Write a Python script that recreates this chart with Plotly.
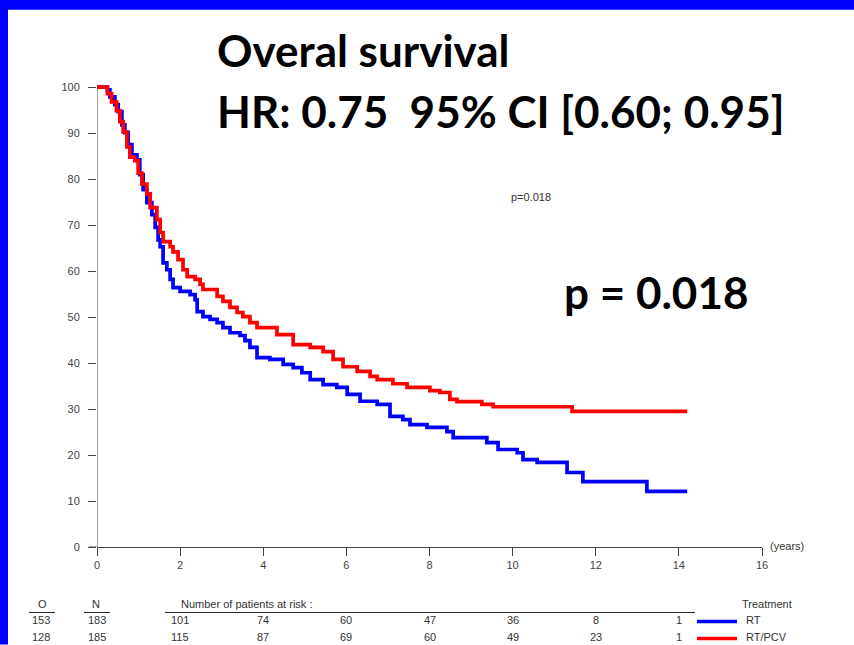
import plotly.graph_objects as go

# ---- data ----
rt_time = [0, 0.25, 0.31, 0.43, 0.51, 0.60, 0.67, 0.75, 0.84, 0.96, 1.03, 1.11, 1.20, 1.32, 1.40,
           1.47, 1.52, 1.59, 1.68, 1.76, 1.83, 2.00, 2.24, 2.36, 2.41, 2.55, 2.72, 2.89, 3.03,
           3.20, 3.44, 3.56, 3.68, 3.85, 4.16, 4.48, 4.72, 4.93, 5.13, 5.44, 5.77, 6.02, 6.33,
           6.74, 7.05, 7.36, 7.53, 7.94, 8.42, 8.57, 9.38, 9.65, 10.11, 10.25, 10.59, 11.31,
           11.69, 13.23, 14.2]
rt_surv = [100, 99.4, 97.9, 96.2, 94.7, 91.8, 90.1, 87.5, 85.3, 84.2, 81.0, 77.7, 74.9, 72.3, 69.5,
           66.8, 65.3, 61.8, 60.3, 58.2, 56.4, 55.6, 54.9, 53.8, 51.2, 50.1, 49.5, 48.8, 47.7,
           46.6, 46.0, 44.9, 43.4, 41.2, 40.8, 39.7, 39.0, 37.9, 36.4, 35.3, 34.7, 33.2, 31.7,
           31.0, 28.4, 27.7, 26.6, 26.0, 25.1, 23.8, 22.7, 21.2, 20.5, 19.0, 18.4, 16.2,
           14.2, 12.1, 12.1]

pcv_time = [0, 0.25, 0.35, 0.47, 0.55, 0.63, 0.72, 0.79, 0.91, 0.99, 1.08, 1.20, 1.28, 1.44, 1.52,
            1.59, 1.76, 1.83, 1.95, 2.07, 2.17, 2.36, 2.48, 2.55, 2.89, 3.03, 3.20, 3.37, 3.51,
            3.68, 3.85, 4.33, 4.72, 5.13, 5.44, 5.68, 5.92, 6.26, 6.57, 6.74, 7.12, 7.46, 8.01,
            8.25, 8.49, 8.66, 9.26, 9.53, 11.43, 14.2]
pcv_surv = [100, 98.6, 96.8, 94.9, 92.5, 90.3, 87.0, 84.8, 84.0, 81.3, 78.9, 76.8, 73.8, 71.2, 68.4,
            66.4, 65.3, 64.2, 62.5, 60.3, 58.8, 58.2, 57.1, 56.0, 54.5, 53.4, 52.1, 51.0, 50.1,
            48.8, 47.7, 46.2, 44.0, 43.4, 42.5, 40.8, 39.2, 38.2, 37.1, 36.4, 35.5, 34.7, 34.0,
            33.6, 32.1, 31.6, 31.0, 30.5, 29.5, 29.5]

x_ticks = [0, 2, 4, 6, 8, 10, 12, 14, 16]
y_ticks = [0, 10, 20, 30, 40, 50, 60, 70, 80, 90, 100]
risk_times = [2, 4, 6, 8, 10, 12, 14]
rt_at_risk = [101, 74, 60, 47, 36, 8, 1]
pcv_at_risk = [115, 87, 69, 60, 49, 23, 1]
groups = ["RT", "RT/PCV"]
events_O = [153, 128]
totals_N = [183, 185]
colors = ["#0000ff", "#ff0000"]

# ---- figure ----
fig = go.Figure()
fig.add_trace(go.Scatter(x=rt_time, y=rt_surv, mode="lines", line=dict(color=colors[0], width=3.7, shape="hv"),
                         name=groups[0], showlegend=False))
fig.add_trace(go.Scatter(x=pcv_time, y=pcv_surv, mode="lines", line=dict(color=colors[1], width=3.7, shape="hv"),
                         name=groups[1], showlegend=False))

W, H = 854, 645
L, R, T, B = 97, 92, 78.3, 97.5
pw, ph = W - L - R, H - T - B


def px(xp):
    return (xp - L) / pw


def py(yp):
    return (H - B - yp) / ph


small = dict(family="Liberation Sans Narrow, Liberation Sans, Arial", size=11, color="#333")
big = dict(family="Lato, Open Sans, sans-serif", size=44, color="black")
tickf = dict(family="Liberation Sans Narrow, Liberation Sans", size=11, color="#444")

fig.update_layout(
    width=W, height=H,
    margin=dict(l=L, r=R, t=T, b=B, pad=0),
    paper_bgcolor="white", plot_bgcolor="white",
    xaxis=dict(range=[0, 16], tickvals=x_ticks, ticktext=[str(v) for v in x_ticks],
               showline=True, linecolor="#444", linewidth=1, ticks="outside", ticklen=8,
               tickcolor="#444", showgrid=False, zeroline=False, tickfont=tickf),
    yaxis=dict(range=[0, 102], tickvals=y_ticks, ticktext=[str(v) for v in y_ticks],
               showline=False, ticks="outside", ticklen=8, tickcolor="#444",
               showgrid=False, zeroline=False, ticklabelstandoff=6, tickfont=tickf),
)

shapes = []
shapes.append(dict(type="line", xref="x", yref="y", x0=0, x1=0, y0=0, y1=100,
                   line=dict(color="#444", width=1)))
shapes.append(dict(type="line", xref="paper", yref="y", x0=px(89), x1=0, y0=0, y1=0,
                   line=dict(color="#444", width=1)))
# blue frame
shapes.append(dict(type="rect", xref="paper", yref="paper", x0=px(0), x1=px(8), y0=py(H), y1=py(0),
                   fillcolor="#0000ff", line=dict(width=0), layer="above"))
shapes.append(dict(type="rect", xref="paper", yref="paper", x0=px(0), x1=px(W), y0=py(10), y1=py(0),
                   fillcolor="#0000ff", line=dict(width=0), layer="above"))
# table underlines
shapes.append(dict(type="line", xref="paper", yref="paper", x0=px(29), x1=px(55), y0=py(613), y1=py(613),
                   line=dict(color="#222", width=1)))
shapes.append(dict(type="line", xref="paper", yref="paper", x0=px(84), x1=px(110), y0=py(613), y1=py(613),
                   line=dict(color="#222", width=1)))
shapes.append(dict(type="line", xref="paper", yref="paper", x0=px(165), x1=px(695), y0=py(613), y1=py(613),
                   line=dict(color="#222", width=1)))
for yy, c in zip([622, 639], colors):
    shapes.append(dict(type="line", xref="paper", yref="paper", x0=px(697), x1=px(737), y0=py(yy), y1=py(yy),
                       line=dict(color=c, width=3.5)))
fig.update_layout(shapes=shapes)

ann = []
ann.append(dict(text="<b>Overal survival</b>", xref="paper", yref="paper", x=px(215), y=py(50),
                xanchor="left", yanchor="middle", showarrow=False, font=big))
ann.append(dict(text="<b>HR: 0.75  95% CI [0.60; 0.95]</b>", xref="paper", yref="paper", x=px(215), y=py(111),
                xanchor="left", yanchor="middle", showarrow=False, font=big))
ann.append(dict(text="<b>p = 0.018</b>", xref="paper", yref="paper", x=px(562), y=py(292),
                xanchor="left", yanchor="middle", showarrow=False, font=big))
ann.append(dict(text="p=0.018", xref="paper", yref="paper", x=px(531), y=py(197),
                xanchor="center", yanchor="middle", showarrow=False,
                font=dict(family="Liberation Sans Narrow, Liberation Sans", size=11, color="#333")))
ann.append(dict(text="(years)", xref="paper", yref="paper", x=px(768), y=py(546),
                xanchor="left", yanchor="middle", showarrow=False, font=small))
ann.append(dict(text="O", xref="paper", yref="paper", x=px(42), y=py(605), xanchor="center",
                yanchor="middle", showarrow=False, font=small))
ann.append(dict(text="N", xref="paper", yref="paper", x=px(96), y=py(605), xanchor="center",
                yanchor="middle", showarrow=False, font=small))
ann.append(dict(text="Number of patients at risk :", xref="paper", yref="paper", x=px(179), y=py(605),
                xanchor="left", yanchor="middle", showarrow=False, font=small))
ann.append(dict(text="Treatment", xref="paper", yref="paper", x=px(794), y=py(605),
                xanchor="right", yanchor="middle", showarrow=False, font=small))
for row_y, o, n, risk, g in zip([621, 638], events_O, totals_N, [rt_at_risk, pcv_at_risk], groups):
    ann.append(dict(text=str(o), xref="paper", yref="paper", x=px(41), y=py(row_y), xanchor="center",
                    yanchor="middle", showarrow=False, font=small))
    ann.append(dict(text=str(n), xref="paper", yref="paper", x=px(97), y=py(row_y), xanchor="center",
                    yanchor="middle", showarrow=False, font=small))
    for t, r in zip(risk_times, risk):
        ann.append(dict(text=str(r), xref="x", yref="paper", x=t, y=py(row_y), xanchor="center",
                        yanchor="middle", showarrow=False, font=small))
    ann.append(dict(text=g, xref="paper", yref="paper", x=px(744), y=py(row_y), xanchor="left",
                    yanchor="middle", showarrow=False, font=small))
fig.update_layout(annotations=ann)

fig.write_html("out.html", config={"displayModeBar": False},
               post_script="document.body.style.margin='0';document.body.style.overflow='hidden';"
                           "document.documentElement.style.overflow='hidden';")
